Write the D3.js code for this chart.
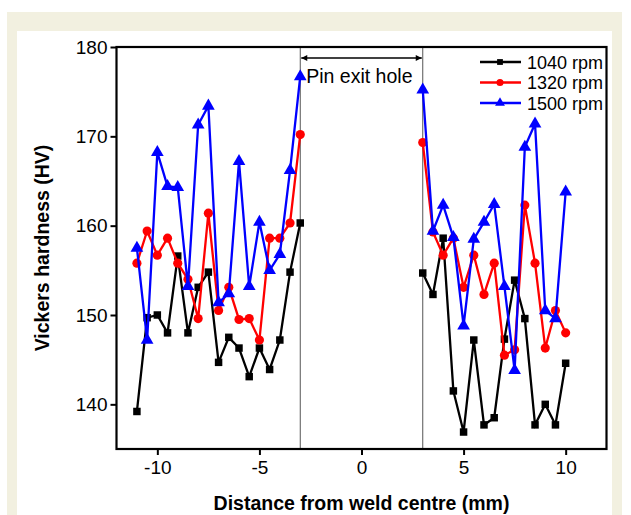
<!DOCTYPE html>
<html>
<head>
<meta charset="utf-8">
<script src="https://cdn.jsdelivr.net/npm/d3@7"></script>
<style>
    body { margin: 0; background: #fff; }
    svg text { font-family: "Liberation Sans", Arial, sans-serif; }
</style>
</head>
<body>
<svg id="chart" width="631" height="515"></svg>
<script>

const leftPositions = [-11, -10.5, -10, -9.5, -9, -8.5, -8, -7.5, -7, -6.5, -6, -5.5, -5, -4.5, -4, -3.5, -3];
const rightPositions = [3, 3.5, 4, 4.5, 5, 5.5, 6, 6.5, 7, 7.5, 8, 8.5, 9, 9.5, 10];

const rpm1040Left = [139.2, 149.7, 150.0, 148.0, 156.6, 148.0, 153.1, 154.8, 144.7, 147.5, 146.3, 143.1, 146.3, 143.9, 147.2, 154.8, 160.3];
const rpm1040Right = [154.7, 152.3, 158.6, 141.5, 136.9, 147.2, 137.7, 138.5, 147.3, 153.9, 149.6, 137.7, 140.0, 137.7, 144.6];

const rpm1320Left = [155.8, 159.4, 156.7, 158.6, 155.8, 154.0, 149.6, 161.4, 150.5, 153.1, 149.5, 149.6, 147.2, 158.6, 158.6, 160.3, 170.2];
const rpm1320Right = [169.3, 159.3, 156.7, 158.6, 153.1, 156.7, 152.3, 155.8, 145.5, 146.1, 162.3, 155.8, 146.3, 150.5, 148.0];

const rpm1500Left = [157.5, 147.2, 168.2, 164.4, 164.3, 153.2, 171.3, 173.4, 151.4, 152.4, 167.2, 153.2, 160.4, 155.0, 156.8, 166.2, 176.7];
const rpm1500Right = [175.2, 159.4, 162.3, 158.7, 148.8, 158.5, 160.4, 162.4, 153.2, 143.8, 168.8, 171.4, 150.5, 149.6, 163.8];

const seriesNames = ['1040 rpm', '1320 rpm', '1500 rpm'];
const xTicks = [-10, -5, 0, 5, 10];
const yTicks = [140, 150, 160, 170, 180];
const pinHole = [-3, 3];

const seriesStyle = [
    {color: '#000000', symbol: d3.symbolSquare, size: 56},
    {color: '#ff0000', symbol: d3.symbolCircle, size: 66},
    {color: '#0000ff', symbol: d3.symbolTriangle, size: 70}
];

const series = [
    [rpm1040Left, rpm1040Right],
    [rpm1320Left, rpm1320Right],
    [rpm1500Left, rpm1500Right]
].map(([left, right], i) => ({
    name: seriesNames[i],
    style: seriesStyle[i],
    parts: [
        left.map((v, k) => ({x: leftPositions[k], y: v})),
        right.map((v, k) => ({x: rightPositions[k], y: v}))
    ]
}));

const svg = d3.select('#chart');

// page frame
svg.append('rect').attr('x', 7).attr('y', 12).attr('width', 615).attr('height', 503).attr('fill', '#f2f0e0');
svg.append('rect').attr('x', 17).attr('y', 31).attr('width', 595).attr('height', 484).attr('fill', '#ffffff');

const margin = {left: 116.5, right: 606.5, top: 47, bottom: 449};

const x = d3.scaleLinear().domain([-12, 12]).range([margin.left, margin.right]);
const y = d3.scaleLinear().domain([135, 180]).range([margin.bottom, margin.top]);

// pin exit hole guides
const guides = svg.append('g');
pinHole.forEach(p => {
    guides.append('line')
        .attr('x1', x(p)).attr('x2', x(p))
        .attr('y1', y(180)).attr('y2', y(135))
        .attr('stroke', '#555').attr('stroke-width', 1);
});

const defs = svg.append('defs');
defs.append('marker')
    .attr('id', 'arrow')
    .attr('viewBox', '0 0 10 10')
    .attr('refX', 10).attr('refY', 5)
    .attr('markerWidth', 10).attr('markerHeight', 6)
    .attr('markerUnits', 'userSpaceOnUse')
    .attr('orient', 'auto-start-reverse')
    .append('path')
    .attr('d', 'M0,0L10,5L0,10Z')
    .attr('fill', '#000');

guides.append('line')
    .attr('x1', x(pinHole[0]) + 1).attr('x2', x(pinHole[1]) - 1)
    .attr('y1', 58).attr('y2', 58)
    .attr('stroke', '#000').attr('stroke-width', 1.5)
    .attr('marker-start', 'url(#arrow)')
    .attr('marker-end', 'url(#arrow)');

guides.append('text')
    .attr('x', x(pinHole[0]) + 6).attr('y', 83)
    .attr('font-size', 19.5)
    .text('Pin exit hole');

// data
const line = d3.line().x(d => x(d.x)).y(d => y(d.y));

series.forEach(s => {
    const g = svg.append('g');
    s.parts.forEach(part => {
        g.append('path')
            .datum(part)
            .attr('d', line)
            .attr('fill', 'none')
            .attr('stroke', s.style.color)
            .attr('stroke-width', 2.3);

        g.selectAll(null)
            .data(part)
            .join('path')
            .attr('transform', d => `translate(${x(d.x)},${y(d.y)})`)
            .attr('d', d3.symbol().type(s.style.symbol).size(s.style.size))
            .attr('fill', s.style.color);
    });
});

// axes
const xAxis = svg.append('g').attr('transform', `translate(0,${margin.bottom})`);
xAxis.call(d3.axisBottom(x).tickValues(d3.range(-10, 10.1, 2.5)).tickSize(5).tickFormat(''));
xAxis.call(d3.axisBottom(x).tickValues(xTicks).tickSize(6).tickFormat(d => String(d)));
xAxis.selectAll('.domain').remove();
xAxis.selectAll('line').attr('stroke-width', 2);
xAxis.selectAll('text').attr('font-size', 19).attr('y', 12).attr('fill', '#000');

const yAxis = svg.append('g').attr('transform', `translate(${margin.left},0)`);
yAxis.call(d3.axisLeft(y).tickValues(d3.range(140, 180.1, 5)).tickSize(5).tickFormat(''));
yAxis.call(d3.axisLeft(y).tickValues(yTicks).tickSize(6).tickFormat(d => String(d)));
yAxis.selectAll('.domain').remove();
yAxis.selectAll('line').attr('stroke-width', 2);
yAxis.selectAll('text').attr('font-size', 19).attr('fill', '#000');

svg.append('rect')
    .attr('x', margin.left).attr('y', margin.top)
    .attr('width', margin.right - margin.left)
    .attr('height', margin.bottom - margin.top)
    .attr('fill', 'none')
    .attr('stroke', '#000').attr('stroke-width', 2.2);

svg.append('text')
    .attr('x', x(0)).attr('y', 510)
    .attr('text-anchor', 'middle')
    .attr('font-size', 19.5).attr('font-weight', 'bold')
    .text('Distance from weld centre (mm)');

svg.append('text')
    .attr('transform', `translate(49,${(margin.top + margin.bottom) / 2}) rotate(-90)`)
    .attr('text-anchor', 'middle')
    .attr('font-size', 19.5).attr('font-weight', 'bold')
    .text('Vickers hardness (HV)');

// legend
const legend = svg.append('g').attr('transform', 'translate(480,62)');
series.forEach((s, i) => {
    const row = legend.append('g').attr('transform', `translate(0,${i * 20.5})`);
    row.append('line')
        .attr('x1', 0).attr('x2', 41)
        .attr('stroke', s.style.color).attr('stroke-width', 2.3);
    row.append('path')
        .attr('transform', 'translate(20,0)')
        .attr('d', d3.symbol().type(s.style.symbol).size(s.style.size * 0.6))
        .attr('fill', s.style.color);
    row.append('text')
        .attr('x', 47).attr('y', 6.5)
        .attr('font-size', 18)
        .text(s.name);
});

</script>
</body>
</html>
